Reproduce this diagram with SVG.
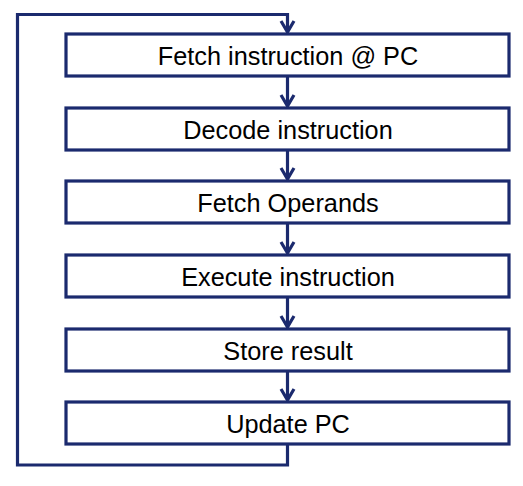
<svg xmlns="http://www.w3.org/2000/svg" width="523" height="486" viewBox="0 0 523 486">
<style>
.box{fill:#fff;stroke:#1b2a6e;stroke-width:3.2}
.lbl{font-family:"Liberation Sans",Arial,sans-serif;font-size:25.3px;fill:#000;text-anchor:middle}
.con{fill:none;stroke:#1b2a6e;stroke-width:3.2}
.hd{fill:none;stroke:#1b2a6e;stroke-width:3.2;stroke-linejoin:miter}
</style>
<rect width="523" height="486" fill="#fff"/>
<g id="connectors">
<path class="con" d="M287.5 444 V465 H17.5 V14.5 H287.5 V32"/>
<path class="hd" d="M281 21 L287.5 32 L294 21"/>
<path class="con" d="M287.5 76 V106"/>
<path class="hd" d="M281 95 L287.5 106 L294 95"/>
<path class="con" d="M287.5 150 V179"/>
<path class="hd" d="M281 168 L287.5 179 L294 168"/>
<path class="con" d="M287.5 223 V253"/>
<path class="hd" d="M281 242 L287.5 253 L294 242"/>
<path class="con" d="M287.5 297 V327"/>
<path class="hd" d="M281 316 L287.5 327 L294 316"/>
<path class="con" d="M287.5 371 V400"/>
<path class="hd" d="M281 389 L287.5 400 L294 389"/>
</g>
<g id="n1"><rect class="box" x="66" y="34" width="443" height="42"/><text class="lbl" x="288" y="65">Fetch instruction @ PC</text></g>
<g id="n2"><rect class="box" x="66" y="108" width="443" height="42"/><text class="lbl" x="288" y="139">Decode instruction</text></g>
<g id="n3"><rect class="box" x="66" y="181" width="443" height="42"/><text class="lbl" x="288" y="212">Fetch Operands</text></g>
<g id="n4"><rect class="box" x="66" y="255" width="443" height="42"/><text class="lbl" x="288" y="286">Execute instruction</text></g>
<g id="n5"><rect class="box" x="66" y="329" width="443" height="42"/><text class="lbl" x="288" y="360">Store result</text></g>
<g id="n6"><rect class="box" x="66" y="402" width="443" height="42"/><text class="lbl" x="288" y="433">Update PC</text></g>
</svg>
